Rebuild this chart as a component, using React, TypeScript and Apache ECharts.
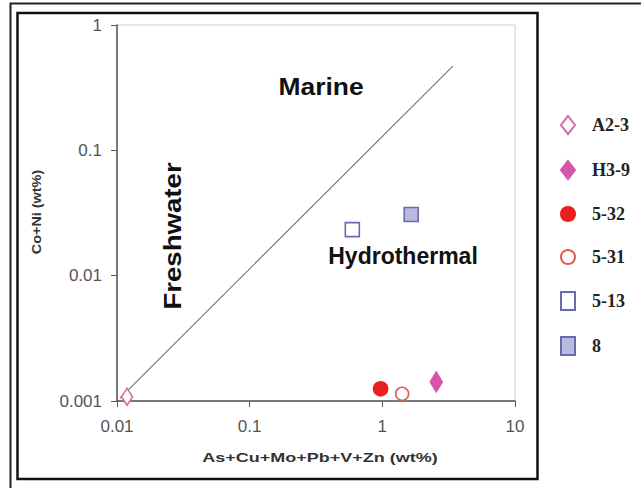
import React, { useEffect, useRef } from "react";
import * as echarts from "echarts";

const seriesNames = ["A2-3", "H3-9", "5-32", "5-31", "5-13", "8"];
const xValues = [0.0119, 2.55, 0.97, 1.41, 0.594, 1.65];
const yValues = [0.00108, 0.00142, 0.00125, 0.00114, 0.0233, 0.0308];
const boundaryX = [0.0105, 3.4];
const boundaryY = [0.00105, 0.47];
const regionLabels = ["Marine", "Hydrothermal", "Freshwater"];
const axisTitles = ["As+Cu+Mo+Pb+V+Zn (wt%)", "Co+Ni (wt%)"];

const symbols = ["diamond", "diamond", "circle", "circle", "rect", "rect"];
const sizes: any[] = [[11, 17], [12, 20], [14, 14], [13, 13], [14, 14], [14, 14]];
const fills = ["#ffffff", "#d456a8", "#e8201e", "#ffffff", "#ffffff", "#b9b9dd"];
const strokes = ["#d66aa8", "#d456a8", "#e8201e", "#e06050", "#6a6ab0", "#6a6ab0"];

export default function App() {
  const ref = useRef<HTMLDivElement>(null);
  useEffect(() => {
    if (!ref.current) return;
    const chart = echarts.init(ref.current, null, { renderer: "svg" });
    const fmt = (v: number) => String(parseFloat(Number(v).toPrecision(3)));
    const scatter = seriesNames.map((name, i) => ({
      name,
      type: "scatter",
      symbol: symbols[i],
      symbolSize: sizes[i],
      data: [[xValues[i], yValues[i]]],
      itemStyle: { color: fills[i], borderColor: strokes[i], borderWidth: 1.6, opacity: 1 },
      z: 3,
    }));
    chart.setOption({
      animation: false,
      backgroundColor: "#ffffff",
      grid: { left: 117, top: 25, width: 398, height: 376, show: true, borderColor: "#cfcfcf", borderWidth: 1 },
      xAxis: {
        type: "log",
        logBase: 10,
        min: 0.01,
        max: 10,
        axisLine: { lineStyle: { color: "#555", width: 1.5 } },
        axisTick: { inside: false, length: 6, lineStyle: { color: "#555" } },
        minorTick: { show: false },
        splitLine: { show: false },
        axisLabel: { formatter: fmt, margin: 17, fontFamily: "Liberation Sans", fontSize: 17, color: "#555" },
      },
      yAxis: {
        type: "log",
        logBase: 10,
        min: 0.001,
        max: 1,
        axisLine: { lineStyle: { color: "#555", width: 1.5 } },
        axisTick: { inside: false, length: 6, lineStyle: { color: "#555" } },
        minorTick: { show: false },
        splitLine: { show: false },
        axisLabel: { formatter: fmt, margin: 15, fontFamily: "Liberation Sans", fontSize: 17, color: "#555" },
      },
      legend: {
        orient: "vertical",
        left: 555,
        top: 110,
        itemWidth: 14,
        itemHeight: 18,
        itemGap: 25,
        data: seriesNames,
        textStyle: { fontFamily: "Liberation Serif", fontWeight: "bold", fontSize: 18, color: "#222", padding: [0, 0, 0, 12] },
      },
      series: [
        {
          name: "boundary",
          type: "line",
          data: boundaryX.map((x, i) => [x, boundaryY[i]]),
          symbol: "none",
          silent: true,
          lineStyle: { color: "#777", width: 1.2 },
          z: 2,
        },
        ...scatter,
      ],
      graphic: [
        { type: "rect", shape: { x: 10.5, y: 3.5, width: 640, height: 500 }, style: { fill: "none", stroke: "#222", lineWidth: 2 }, silent: true },
        { type: "rect", shape: { x: 17.5, y: 13, width: 520, height: 466 }, style: { fill: "none", stroke: "#111", lineWidth: 2.5 }, silent: true },
        { type: "text", x: 321, y: 87, style: { text: regionLabels[0], font: "bold 23px Liberation Sans", fill: "#111", textAlign: "center", textVerticalAlign: "middle" }, scaleX: 1.15 },
        { type: "text", x: 403, y: 256, style: { text: regionLabels[1], font: "bold 23px Liberation Sans", fill: "#111", textAlign: "center", textVerticalAlign: "middle" } },
        { type: "text", x: 173, y: 236, rotation: Math.PI / 2, style: { text: regionLabels[2], font: "bold 24px Liberation Sans", fill: "#111", textAlign: "center", textVerticalAlign: "middle" }, scaleX: 1.15 },
        { type: "text", x: 320, y: 458, style: { text: axisTitles[0], font: "bold 12px Liberation Sans", fill: "#333", textAlign: "center", textVerticalAlign: "middle" }, scaleX: 1.5 },
        { type: "text", x: 37, y: 212, rotation: Math.PI / 2, style: { text: axisTitles[1], font: "bold 12px Liberation Sans", fill: "#333", textAlign: "center", textVerticalAlign: "middle" }, scaleX: 1.2 },
      ],
    });
    return () => chart.dispose();
  }, []);
  return <div ref={ref} style={{ position: "fixed", left: 0, top: 0, width: 641, height: 488 }} />;
}
